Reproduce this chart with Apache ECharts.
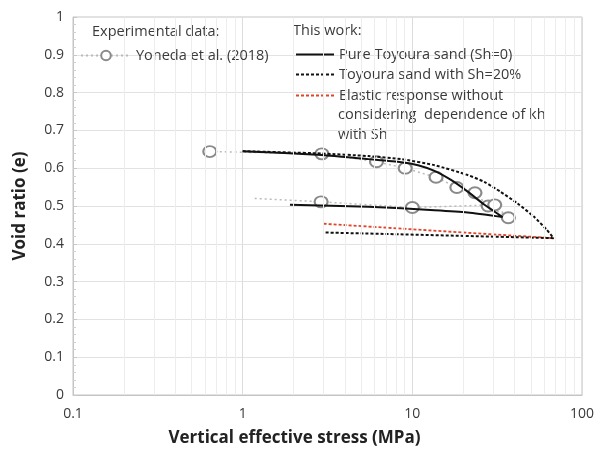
<!DOCTYPE html>
<html><head><meta charset="utf-8">
<script src="https://cdn.jsdelivr.net/npm/echarts@6/dist/echarts.min.js"></script>
<style>html,body{margin:0;padding:0;background:#fff}#c{width:597px;height:454px}</style>
</head><body><div id="c"></div>
<script>
// ---- data ----
const xTickLabels = [0.1, 1, 10, 100];
const yTickLabels = [0, 0.1, 0.2, 0.3, 0.4, 0.5, 0.6, 0.7, 0.8, 0.9, 1];
const minorXGrid = [0.2,0.3,0.4,0.5,0.6,0.7,0.8,0.9, 2,3,4,5,6,7,8,9, 20,30,40,50,60,70,80,90];

// Yoneda et al. (2018) experimental data (loading then unloading)
const expStress = [0.64, 2.93, 6.15, 9.08, 13.8, 18.3, 23.4, 28.0, 36.8, 30.6, 10.0, 2.9, 1.16];
const expVoid   = [0.644, 0.638, 0.617, 0.600, 0.576, 0.549, 0.535, 0.500, 0.469, 0.503, 0.496, 0.511, 0.520];
const expMarker = [1,1,1,1,1,1,1,1,1,1,1,1,0];

// This work: pure Toyoura sand (Sh=0), loading then unloading
const pureStress = [1.0, 2.93, 5.5, 8.6, 10.8, 13.5, 16.9, 21.2, 26.5, 34.0, 21.2, 13.5, 5.5, 1.9];
const pureVoid   = [0.645, 0.635, 0.624, 0.616, 0.608, 0.593, 0.569, 0.538, 0.504, 0.471, 0.483, 0.489, 0.498, 0.503];

// This work: Toyoura sand with Sh=20%, loading then unloading
const sh20Stress = [1.0, 2.9, 5.5, 8.6, 13.5, 21.2, 26.5, 33.0, 41.6, 52.0, 62.0, 68.0, 3.0];
const sh20Void   = [0.645, 0.639, 0.632, 0.624, 0.608, 0.582, 0.564, 0.538, 0.507, 0.472, 0.437, 0.415, 0.430];

// Elastic response without considering dependence of kh with Sh
const elasticStress = [3.0, 68.0];
const elasticVoid   = [0.453, 0.415];

// ---- build ----
const expData = expStress.map((x, i) => expMarker[i] ? [x, expVoid[i]] : {value: [x, expVoid[i]], symbol: 'none'});
const pureData = pureStress.map((x, i) => [x, pureVoid[i]]);
const sh20Data = sh20Stress.map((x, i) => [x, sh20Void[i]]);
const elasticData = elasticStress.map((x, i) => [x, elasticVoid[i]]);

const NAME_EXP = 'Yoneda et al. (2018)';
const NAME_PURE = 'Pure Toyoura sand (Sh=0)';
const NAME_SH = 'Toyoura sand with Sh=20%';
const NAME_EL = 'Elastic response without considering  dependence of kh with Sh';
const EL_LINES = ['Elastic response without', 'considering  dependence of kh', 'with Sh'];

const FONT = '"Open Sans", sans-serif';
const TXT = '#3a3a3a';
const LEG_FS = 14.5;

const chart = echarts.init(document.getElementById('c'), null, {renderer: 'canvas'});
chart.setOption({
  animation: false,
  backgroundColor: '#fff',
  textStyle: {fontFamily: FONT},
  grid: {left: 73, right: 12, top: 17, bottom: 59, show: true, borderColor: '#c4c4c4', borderWidth: 1},
  xAxis: {
    type: 'log', logBase: 10, min: 0.1, max: 100,
    name: 'Vertical effective stress (MPa)', nameLocation: 'middle', nameGap: 35,
    nameTextStyle: {fontFamily: FONT, fontWeight: 'bold', fontSize: 17, color: '#222', padding: [0, 66, 0, 0]},
    axisLine: {show: true, lineStyle: {color: '#c4c4c4'}},
    axisTick: {show: false},
    axisLabel: {color: TXT, fontSize: 14, margin: 12, fontFamily: FONT,
      formatter: v => { const t = xTickLabels.find(k => Math.abs(k - v) / k < 1e-6); return t === undefined ? '' : String(t); }},
    splitLine: {show: true, lineStyle: {color: '#dcdcdc', width: 1}}
  },
  yAxis: {
    type: 'value', min: 0, max: 1, interval: 0.1,
    name: 'Void ratio (e)', nameLocation: 'middle', nameGap: 44,
    nameTextStyle: {fontFamily: FONT, fontWeight: 'bold', fontSize: 17, color: '#222'},
    axisLine: {show: true, lineStyle: {color: '#c4c4c4'}},
    axisTick: {show: true, inside: true, length: 4, lineStyle: {color: '#c8c8c8'}},
    minorTick: {show: true, splitNumber: 5, length: 3, lineStyle: {color: '#cfcfcf'}},
    axisLabel: {color: TXT, fontSize: 14, margin: 9, fontFamily: FONT,
      formatter: v => { const t = yTickLabels.find(k => Math.abs(k - v) < 1e-6); return t === undefined ? '' : String(t); }},
    splitLine: {show: true, lineStyle: {color: '#e2e2e2', width: 1}}
  },
  legend: [
    {left: 80, top: 48, padding: 0, itemWidth: 50, itemHeight: 12, itemGap: 5, selectedMode: false,
     textStyle: {color: TXT, fontSize: LEG_FS, fontFamily: FONT}, data: [NAME_EXP]},
    {left: 295, top: 47, padding: 0, orient: 'vertical', itemWidth: 38, itemHeight: 14, itemGap: 5, selectedMode: false,
     itemStyle: {opacity: 0},
     textStyle: {color: TXT, fontSize: LEG_FS, fontFamily: FONT}, data: [NAME_PURE, NAME_SH]},
    {left: 295, top: 88, padding: 0, orient: 'vertical', itemWidth: 38, itemHeight: 14, selectedMode: false,
     itemStyle: {opacity: 0},
     formatter: () => EL_LINES[0],
     textStyle: {color: TXT, fontSize: LEG_FS, fontFamily: FONT}, data: [NAME_EL]}
  ],
  graphic: [
    {type: 'text', left: 92, top: 24, style: {text: 'Experimental data:', fill: TXT, font: LEG_FS + 'px ' + FONT}},
    {type: 'text', left: 293, top: 23, style: {text: 'This work:', fill: TXT, font: LEG_FS + 'px ' + FONT}},
    {type: 'text', left: 338, top: 107, style: {text: EL_LINES[1], fill: TXT, font: LEG_FS + 'px ' + FONT}},
    {type: 'text', left: 338, top: 127, style: {text: EL_LINES[2], fill: TXT, font: LEG_FS + 'px ' + FONT}}
  ],
  series: [
    {type: 'line', name: '_grid', data: [], z: 1, silent: true,
     markLine: {silent: true, symbol: ['none', 'none'], label: {show: false},
       lineStyle: {color: '#ededed', type: 'solid', width: 1},
       data: minorXGrid.map(v => ({xAxis: v}))}},
    {type: 'line', name: NAME_EXP, data: expData, z: 3,
     symbol: 'emptyCircle', symbolSize: [13, 11], showSymbol: true,
     itemStyle: {color: '#8a8a8a', borderColor: '#8a8a8a', borderWidth: 1.5},
     lineStyle: {color: '#bababa', width: 1.5, type: [2, 3]}},
    {type: 'line', name: NAME_PURE, data: pureData, z: 4, showSymbol: false, symbol: 'none', smooth: 0.2,
     itemStyle: {color: '#111'}, lineStyle: {color: '#111', width: 2, type: 'solid'}},
    {type: 'line', name: NAME_SH, data: sh20Data, z: 4, showSymbol: false, symbol: 'none', smooth: 0.2,
     itemStyle: {color: '#111'}, lineStyle: {color: '#111', width: 2, type: [3, 2]}},
    {type: 'line', name: NAME_EL, data: elasticData, z: 3, showSymbol: false, symbol: 'none',
     itemStyle: {color: '#e0452a'}, lineStyle: {color: '#e0452a', width: 1.8, type: [3, 2]}}
  ]
});
</script>
</body></html>
